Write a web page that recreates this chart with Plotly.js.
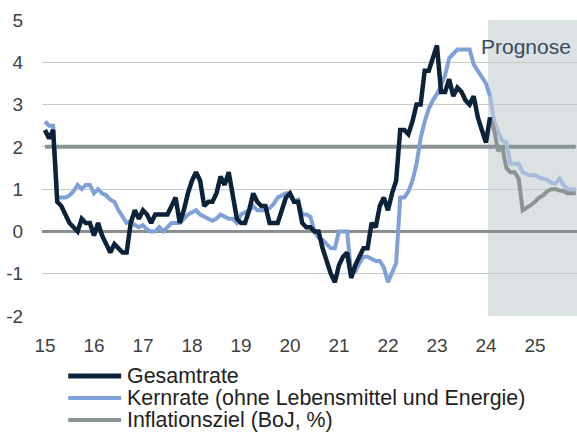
<!DOCTYPE html>
<html>
<head>
<meta charset="utf-8">
<script src="https://cdn.plot.ly/plotly-3.0.1.min.js"></script>
<style>html,body{margin:0;padding:0;background:#fff;}#chart{width:577px;height:432px;}</style>
</head>
<body>
<div id="chart"></div>
<script>
// Monthly index: 0 = Jan 2015
const yearTickPos = [0, 12, 24, 36, 48, 60, 72, 84, 96, 108, 120];
const yearTickLabels = ["15","16","17","18","19","20","21","22","23","24","25"];
const yTickVals = [-2,-1,0,1,2,3,4,5];
const yTickLabels = ["-2","-1","0","1","2","3","4","5"];

// Gesamtrate, actual (Jan 2015 .. Feb 2024)
const gesamtIst = [2.4,2.2,2.4,0.7,0.6,0.4,0.2,0.1,0.0,0.3,0.2,0.2,
 -0.1,0.2,-0.1,-0.3,-0.5,-0.3,-0.4,-0.5,-0.5,0.2,0.5,0.3,
 0.5,0.4,0.2,0.4,0.4,0.4,0.4,0.6,0.8,0.2,0.5,0.9,
 1.2,1.4,1.2,0.6,0.7,0.7,0.9,1.3,1.1,1.4,0.8,0.3,
 0.2,0.2,0.5,0.9,0.7,0.6,0.6,0.2,0.2,0.2,0.5,0.8,
 0.9,0.7,0.7,0.2,0.1,0.1,0.0,0.0,-0.4,-0.7,-1.0,-1.2,
 -0.8,-0.6,-0.5,-1.1,-0.8,-0.6,-0.4,-0.4,0.2,0.1,0.6,0.8,
 0.5,0.9,1.2,2.4,2.4,2.3,2.6,3.0,3.0,3.8,3.8,4.1,
 4.4,3.3,3.3,3.6,3.2,3.4,3.3,3.1,3.0,3.2,2.7,2.4,
 2.1,2.7];
// Gesamtrate, forecast (Feb 2024 .. Nov 2025)
const gesamtPrognose = [2.7,2.4,1.9,2.0,1.5,1.4,1.4,1.25,0.5,0.55,0.62,0.7,
 0.8,0.85,0.95,1.0,1.0,0.97,0.95,0.9,0.9,0.9];

// Kernrate (ohne Lebensmittel und Energie), actual
const kernIst = [2.6,2.5,2.5,0.8,0.8,0.8,0.85,0.95,1.1,1.0,1.1,1.1,
 0.9,1.0,0.9,0.85,0.75,0.7,0.5,0.35,0.2,0.25,0.15,0.1,
 0.15,0.05,0.0,0.0,0.1,0.0,0.1,0.2,0.2,0.2,0.3,0.4,
 0.45,0.5,0.4,0.35,0.3,0.25,0.3,0.4,0.35,0.3,0.3,0.2,
 0.4,0.45,0.5,0.6,0.5,0.5,0.5,0.55,0.65,0.8,0.85,0.9,
 0.9,0.7,0.75,0.4,0.4,0.35,0.0,-0.15,-0.2,-0.3,-0.4,-0.4,
 0.0,0.0,0.0,-1.0,-0.95,-0.75,-0.6,-0.6,-0.65,-0.7,-0.7,-0.85,
 -1.2,-0.95,-0.75,0.8,0.8,0.95,1.2,1.6,2.2,2.6,2.9,3.1,
 3.25,3.45,3.7,4.1,4.2,4.3,4.3,4.3,4.3,3.95,3.8,3.65,
 3.5,3.2];
// Kernrate, forecast
const kernPrognose = [3.2,2.6,2.35,2.15,2.1,1.6,1.6,1.6,1.4,1.35,1.33,1.33,
 1.28,1.25,1.22,1.15,1.13,1.25,1.1,1.0,1.0,1.0];

const inflationsziel = 2;

const seriesNames = ["Gesamtrate","Kernrate (ohne Lebensmittel und Energie)","Inflationsziel (BoJ, %)"];
const seriesColors = ["#0b2239","#7fa1d8","#8b9494"];
const prognoseColors = ["#8b9595","#a9bcd9"];
const prognoseLabel = "Prognose";
const prognoseStart = 108.5;

const istX = gesamtIst.map((_, i) => i);
const progStart = gesamtIst.length - 1;
const progX = gesamtPrognose.map((_, i) => progStart + i);
const allX = istX.concat(progX.slice(1));
const zielY = allX.map(() => inflationsziel);

const FONT = "Liberation Sans, Arial, sans-serif";

const traces = [
  {x: allX, y: zielY, type: "scatter", mode: "lines", name: seriesNames[2],
   line: {color: seriesColors[2], width: 4}, hoverinfo: "skip"},
  {x: progX, y: kernPrognose, type: "scatter", mode: "lines", name: seriesNames[1] + " " + prognoseLabel,
   line: {color: prognoseColors[1], width: 4}},
  {x: progX, y: gesamtPrognose, type: "scatter", mode: "lines", name: seriesNames[0] + " " + prognoseLabel,
   line: {color: prognoseColors[0], width: 4}},
  {x: istX, y: kernIst, type: "scatter", mode: "lines", name: seriesNames[1],
   line: {color: seriesColors[1], width: 4}},
  {x: istX, y: gesamtIst, type: "scatter", mode: "lines", name: seriesNames[0],
   line: {color: seriesColors[0], width: 4.5}}
];

// custom legend (paper coords)
const legendRows = [-0.203, -0.277, -0.351];
const shapes = [
  {type: "rect", xref: "x", yref: "paper", x0: prognoseStart, x1: 140, y0: 0, y1: 1,
   fillcolor: "#dce1e4", line: {width: 0}, layer: "below"}
];
const annotations = [
  {x: prognoseStart - 2.3, y: 4.37, xref: "x", yref: "y", text: prognoseLabel, showarrow: false,
   xanchor: "left", yanchor: "middle", font: {family: FONT, size: 21, color: "#3a4a5e"}}
];
seriesNames.forEach((n, i) => {
  shapes.push({type: "line", xref: "paper", yref: "paper", x0: 0.049, x1: 0.148,
    y0: legendRows[i], y1: legendRows[i], line: {color: seriesColors[i], width: i === 0 ? 5 : 4}});
  annotations.push({x: 0.155, y: legendRows[i], xref: "paper", yref: "paper", text: n,
    showarrow: false, xanchor: "left", yanchor: "middle",
    font: {family: FONT, size: 21.4, color: "#222222"}});
});

const layout = {
  width: 577, height: 432,
  margin: {l: 42, r: 0, t: 20, b: 116},
  paper_bgcolor: "#ffffff", plot_bgcolor: "rgba(0,0,0,0)",
  showlegend: false,
  font: {family: FONT, size: 19, color: "#404040"},
  xaxis: {
    range: [-0.73, 130.3], tickmode: "array", tickvals: yearTickPos, ticktext: yearTickLabels,
    showgrid: false, zeroline: false, showline: false,
    ticks: "outside", ticklen: 12, tickcolor: "rgba(0,0,0,0)",
    tickfont: {family: FONT, size: 19, color: "#404040"}
  },
  yaxis: {
    range: [-2, 5], tickmode: "array", tickvals: yTickVals, ticktext: yTickLabels,
    showgrid: true, gridcolor: "#c8c8c8", gridwidth: 1,
    zeroline: true, zerolinecolor: "#8a8d8d", zerolinewidth: 3.5,
    showline: false, ticks: "outside", ticklen: 14, tickcolor: "rgba(0,0,0,0)",
    tickfont: {family: FONT, size: 19, color: "#404040"}
  },
  shapes: shapes,
  annotations: annotations
};

Plotly.newPlot("chart", traces, layout, {displayModeBar: false, staticPlot: true});
</script>
</body>
</html>
